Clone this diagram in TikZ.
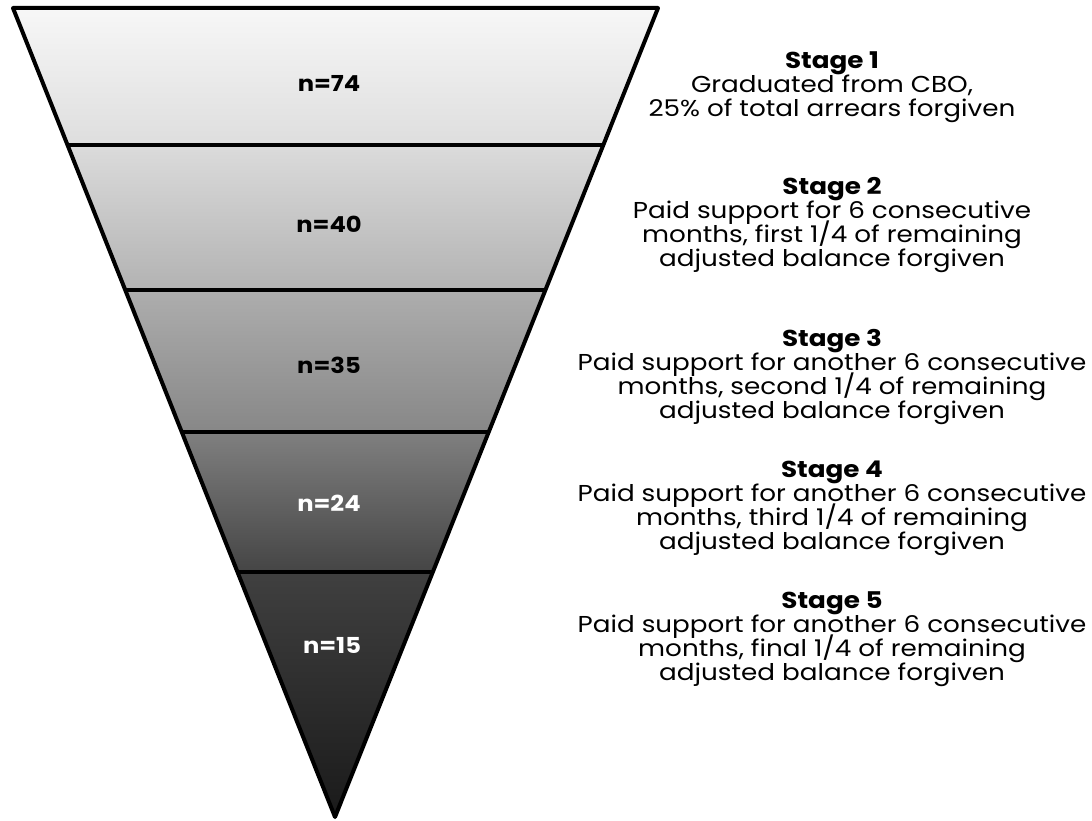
\documentclass[tikz,border=0pt]{standalone}
\usepackage{fontspec}
\setmainfont{Poppins}
\newfontfamily\stagefont[FakeStretch=1.14]{Poppins}
\newfontfamily\countfont[FakeStretch=1.1]{Poppins}
\newcommand\tightlines{\lineskiplimit=-30pt\relax\lineskip=0pt\relax}
\begin{document}
\begin{tikzpicture}[x=1pt,y=-1pt,
  stagetext/.style={align=center, inner sep=0pt, anchor=north, font=\stagefont\fontsize{23}{24}\selectfont\tightlines},
  countlabel/.style={inner sep=0pt, font=\countfont\fontsize{22}{24}\selectfont\bfseries},
  divider/.style={line width=3.5pt}]
\useasboundingbox (0,0) rectangle (1092,821);
\coordinate (TL) at (13,8);
\coordinate (TR) at (658,8);
\coordinate (A) at (335,817);
\begin{scope}
  \clip (TL) -- (TR) -- (A) -- cycle;
  \shade[top color=black!3, bottom color=black!13] (0,6) rectangle (1092,145);
  \shade[top color=black!14, bottom color=black!30] (0,145) rectangle (1092,290);
  \shade[top color=black!32, bottom color=black!47] (0,290) rectangle (1092,432);
  \shade[top color=black!50, bottom color=black!73] (0,432) rectangle (1092,572);
  \shade[top color=black!75, bottom color=black!90] (0,572) rectangle (1092,821);
  \draw[divider] (0,145) -- (1092,145);
  \draw[divider] (0,290) -- (1092,290);
  \draw[divider] (0,432) -- (1092,432);
  \draw[divider] (0,572) -- (1092,572);
\end{scope}
\draw[line width=4pt, line join=round] (TL) -- (TR) -- (A) -- cycle;

\node[countlabel] (n1) at (329,83) {n=74};
\node[countlabel] (n2) at (329,224) {n=40};
\node[countlabel] (n3) at (329,365) {n=35};
\node[countlabel, text=white] (n4) at (329,503) {n=24};
\node[countlabel, text=white] (n5) at (332,645) {n=15};

\node[stagetext] (s1) at (832,51.5) {\textbf{Stage 1}\\Graduated from CBO,\\25\% of total arrears forgiven};
\node[stagetext] (s2) at (832,177.5) {\textbf{Stage 2}\\Paid support for 6 consecutive\\months, first 1/4 of remaining\\adjusted balance forgiven};
\node[stagetext] (s3) at (832,329.5) {\textbf{Stage 3}\\Paid support for another 6 consecutive\\months, second 1/4 of remaining\\adjusted balance forgiven};
\node[stagetext] (s4) at (832,460.5) {\textbf{Stage 4}\\Paid support for another 6 consecutive\\months, third 1/4 of remaining\\adjusted balance forgiven};
\node[stagetext] (s5) at (832,591.5) {\textbf{Stage 5}\\Paid support for another 6 consecutive\\months, final 1/4 of remaining\\adjusted balance forgiven};
\end{tikzpicture}
\end{document}
